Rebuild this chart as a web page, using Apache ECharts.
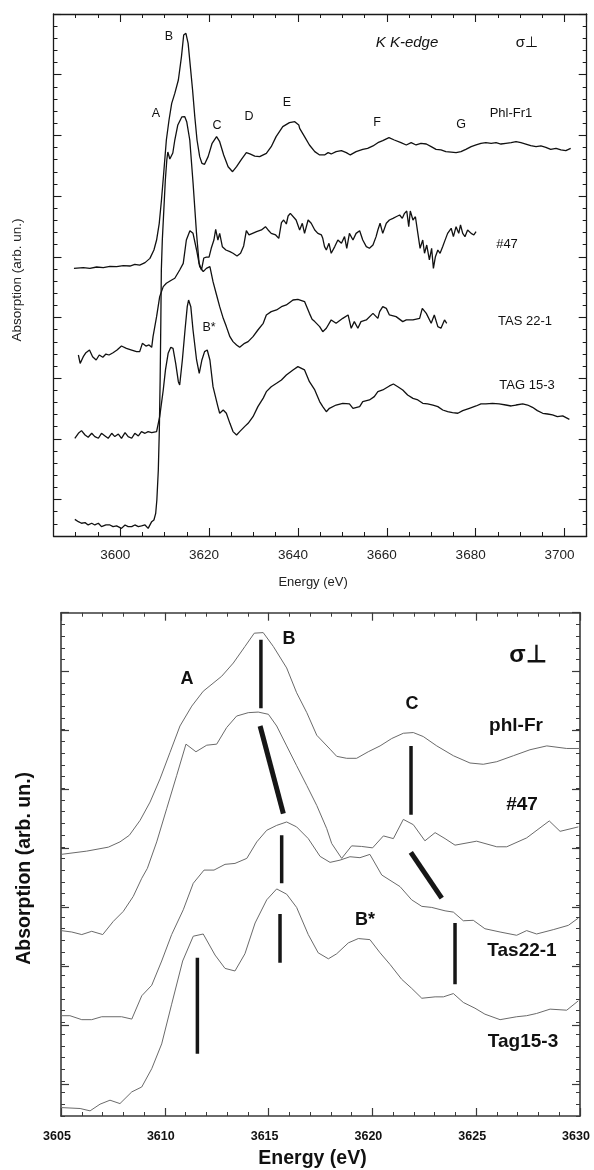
<!DOCTYPE html>
<html>
<head>
<meta charset="utf-8">
<script src="https://cdn.jsdelivr.net/npm/echarts@6/dist/echarts.min.js"></script>
<style>
html,body{margin:0;padding:0;background:#fff;}
#chart{width:594px;height:1170px;}
</style>
</head>
<body>
<div id="chart"></div>
<script>
// ---------------- DATA: top panel (K K-edge, energy eV vs absorption arb. un.) ----------------
const phlFr1Top = [[3589.6,19.05],[3591.7,19.10],[3593.2,19.05],[3594.7,19.16],[3596.2,19.10],[3597.7,19.21],[3599.2,19.19],[3600.7,19.27],[3602.2,19.24],[3603.3,19.38],[3604.4,19.32],[3605.6,19.52],[3606.7,19.87],[3607.6,20.56],[3608.2,21.38],[3608.8,22.76],[3609.3,24.68],[3609.8,26.88],[3610.4,29.62],[3611.0,31.27],[3611.6,32.64],[3612.3,33.46],[3613.1,34.56],[3613.8,36.49],[3614.3,38.27],[3614.8,38.41],[3615.3,37.58],[3615.8,35.66],[3616.3,33.74],[3616.8,31.54],[3617.3,29.62],[3617.9,28.25],[3618.4,27.70],[3619.0,27.62],[3619.8,28.25],[3620.7,29.35],[3621.7,29.90],[3622.4,29.48],[3623.3,28.38],[3624.3,27.42],[3625.3,27.01],[3626.2,27.42],[3627.3,28.03],[3628.4,28.58],[3629.2,28.47],[3630.3,28.30],[3631.4,28.25],[3632.9,28.52],[3634.0,29.07],[3635.1,29.90],[3636.6,30.72],[3638.1,31.05],[3639.3,31.13],[3640.2,30.86],[3640.4,30.58],[3641.5,29.90],[3642.6,29.21],[3643.8,28.66],[3644.9,28.39],[3646.0,28.39],[3646.8,28.58],[3647.5,28.47],[3648.6,28.66],[3649.8,28.74],[3650.9,28.58],[3651.8,28.39],[3653.1,28.66],[3654.6,28.85],[3655.7,28.93],[3656.9,29.13],[3658.0,29.40],[3659.1,29.57],[3660.5,29.81],[3661.7,29.62],[3663.2,29.40],[3664.4,29.21],[3665.5,29.40],[3666.6,29.21],[3667.7,29.35],[3668.9,29.29],[3670.0,29.07],[3671.1,28.85],[3672.2,28.80],[3673.3,28.66],[3674.5,28.63],[3675.6,28.58],[3676.7,28.66],[3677.8,28.85],[3679.0,29.07],[3680.1,29.21],[3681.2,29.35],[3682.3,29.40],[3683.5,29.35],[3684.6,29.40],[3685.7,29.29],[3686.8,29.35],[3688.0,29.40],[3689.1,29.48],[3690.2,29.40],[3691.3,29.29],[3692.4,29.15],[3693.6,29.07],[3694.7,29.13],[3695.8,29.02],[3696.9,28.85],[3698.1,28.93],[3699.2,28.80],[3700.3,28.74],[3701.4,28.93]];

const s47Top = [[3589.8,-1.63],[3590.6,-1.82],[3591.3,-1.95],[3592.1,-1.90],[3592.8,-2.09],[3593.6,-1.95],[3594.3,-2.09],[3595.1,-1.95],[3595.8,-2.23],[3596.8,-2.09],[3597.7,-2.09],[3598.4,-2.23],[3599.2,-2.17],[3600.3,-2.37],[3601.1,-2.09],[3601.8,-2.23],[3602.6,-2.23],[3603.3,-2.09],[3604.1,-2.23],[3604.8,-2.17],[3605.6,-2.09],[3606.3,-2.37],[3607.1,-1.82],[3607.6,-1.68],[3608.0,-1.13],[3608.26,-0.03],[3608.59,2.44],[3608.82,5.73],[3609.0,9.85],[3609.16,14.79],[3609.27,18.91],[3609.49,21.38],[3609.83,23.86],[3610.17,26.33],[3610.5,27.97],[3610.73,28.63],[3611.18,28.06],[3611.85,28.55],[3612.3,29.62],[3612.98,30.86],[3613.87,31.52],[3614.55,31.54],[3615.0,31.10],[3615.67,29.62],[3616.41,26.08],[3617.18,21.96],[3617.76,19.49],[3618.3,18.91],[3618.82,19.90],[3619.42,19.98],[3620.01,19.98],[3620.5,20.70],[3621.1,21.38],[3621.5,22.26],[3622.0,21.38],[3622.4,21.93],[3623.0,20.83],[3623.8,20.56],[3624.7,20.42],[3625.4,20.29],[3626.3,20.07],[3627.1,20.29],[3627.8,20.89],[3628.4,22.15],[3629.0,21.80],[3629.8,21.93],[3630.7,22.07],[3631.8,22.21],[3632.7,22.48],[3633.3,22.21],[3634.0,21.93],[3635.0,21.80],[3635.7,21.52],[3636.3,22.81],[3636.8,23.03],[3637.4,22.70],[3637.8,23.36],[3638.3,23.58],[3639.6,23.03],[3640.4,22.21],[3641.0,22.76],[3641.5,21.93],[3642.3,23.03],[3643.0,22.76],[3643.8,22.21],[3644.5,21.93],[3645.3,21.80],[3645.6,21.52],[3646.0,20.84],[3646.4,20.56],[3647.0,21.11],[3647.5,20.29],[3648.3,20.84],[3649.0,21.38],[3649.8,21.11],[3650.5,21.66],[3651.0,20.70],[3651.6,21.93],[3652.4,21.38],[3653.1,21.93],[3653.9,22.15],[3654.6,21.38],[3655.4,20.84],[3656.1,20.70],[3656.9,20.97],[3657.6,21.66],[3658.0,22.21],[3658.5,22.76],[3659.1,21.93],[3659.9,22.76],[3660.6,23.03],[3661.4,23.17],[3662.1,23.30],[3662.9,23.44],[3663.5,23.17],[3664.0,23.58],[3664.5,23.77],[3664.95,22.48],[3665.3,23.77],[3665.9,23.03],[3666.45,23.30],[3667.0,21.93],[3667.5,20.70],[3668.1,21.38],[3668.5,20.29],[3669.0,20.97],[3669.6,19.74],[3670.1,20.70],[3670.5,19.05],[3670.95,20.01],[3671.5,20.56],[3672.0,20.29],[3672.6,20.84],[3673.0,21.25],[3673.7,21.93],[3674.5,22.35],[3675.0,21.66],[3675.6,22.48],[3676.2,21.93],[3676.6,22.62],[3677.1,21.93],[3677.6,21.66],[3678.2,22.21],[3679.0,21.93],[3679.6,21.80],[3680.1,22.07]];

const tas221Top = [[3590.6,11.91],[3591.0,11.22],[3591.7,11.77],[3592.3,12.10],[3593.1,12.32],[3593.8,11.77],[3594.6,11.50],[3595.3,11.91],[3596.1,11.72],[3596.8,11.99],[3597.5,11.91],[3598.4,12.10],[3599.3,12.32],[3600.3,12.65],[3601.4,12.46],[3602.6,12.32],[3603.7,12.19],[3604.4,12.19],[3605.0,12.87],[3605.8,12.65],[3606.5,12.74],[3607.1,12.54],[3607.4,13.42],[3608.2,15.07],[3608.9,16.72],[3609.7,17.54],[3610.4,17.82],[3611.6,18.09],[3612.3,18.23],[3613.4,18.91],[3614.2,19.46],[3614.9,21.38],[3615.7,22.15],[3616.4,21.93],[3617.2,20.56],[3617.9,19.19],[3618.7,18.78],[3619.4,19.05],[3620.2,19.19],[3620.9,17.95],[3621.7,16.85],[3622.4,15.89],[3623.2,14.93],[3623.9,14.25],[3624.7,13.42],[3625.4,13.01],[3626.2,12.74],[3626.9,12.54],[3628.0,12.87],[3628.8,13.01],[3629.9,13.42],[3631.0,13.97],[3632.2,14.52],[3632.9,15.21],[3634.0,15.48],[3635.2,15.62],[3636.3,15.89],[3637.4,16.03],[3638.9,16.44],[3640.0,16.50],[3641.5,16.31],[3642.6,15.34],[3643.2,14.85],[3643.8,14.66],[3644.9,14.25],[3645.6,13.83],[3646.4,14.11],[3647.5,14.80],[3648.6,14.52],[3650.1,14.93],[3651.3,15.21],[3652.0,14.11],[3652.7,14.66],[3653.5,14.11],[3654.2,14.66],[3655.4,14.80],[3656.9,15.34],[3658.0,14.93],[3658.4,15.48],[3659.1,15.89],[3659.9,15.75],[3660.6,15.21],[3662.1,15.07],[3663.6,14.66],[3664.4,14.80],[3665.9,14.80],[3667.4,14.93],[3668.0,15.75],[3668.9,15.34],[3670.0,14.52],[3670.7,15.21],[3671.5,14.25],[3672.2,14.11],[3673.0,14.80],[3673.5,14.52]];

const tag153Top = [[3589.8,5.05],[3590.6,5.46],[3591.3,5.68],[3592.1,5.32],[3592.8,5.13],[3593.6,5.46],[3594.3,5.19],[3595.1,5.05],[3595.8,5.46],[3596.6,5.24],[3597.3,5.05],[3598.1,5.46],[3598.8,5.19],[3599.6,5.40],[3600.3,5.05],[3601.1,5.51],[3601.8,5.19],[3602.6,5.05],[3603.3,5.46],[3604.1,5.24],[3604.8,5.60],[3605.6,5.46],[3606.3,5.60],[3607.1,5.51],[3608.2,5.60],[3608.6,5.74],[3608.9,6.83],[3609.7,9.03],[3610.2,10.68],[3610.8,12.05],[3611.4,12.54],[3611.9,12.46],[3612.5,11.22],[3613.1,9.71],[3613.4,9.44],[3614.0,11.50],[3614.6,13.97],[3615.1,15.89],[3615.4,16.44],[3615.9,15.89],[3616.4,13.97],[3617.2,11.50],[3617.8,10.40],[3618.4,11.50],[3619.0,12.19],[3619.6,12.32],[3620.2,11.50],[3620.9,9.30],[3622.0,7.66],[3622.4,7.11],[3623.2,7.38],[3623.9,7.11],[3624.7,6.28],[3625.4,5.60],[3626.2,5.32],[3626.9,5.60],[3628.0,6.01],[3628.8,6.28],[3629.9,6.83],[3631.0,7.66],[3632.2,8.36],[3632.9,8.89],[3634.0,9.30],[3635.2,9.58],[3636.3,9.85],[3637.4,10.26],[3638.9,10.68],[3640.0,10.95],[3641.5,10.68],[3642.6,9.71],[3643.8,9.03],[3644.9,8.07],[3645.6,7.66],[3646.4,7.24],[3647.1,7.52],[3648.6,7.79],[3650.1,7.93],[3651.6,7.88],[3652.4,7.52],[3653.9,7.66],[3654.6,8.07],[3656.1,8.21],[3657.2,8.48],[3658.0,8.89],[3659.1,9.03],[3660.6,9.36],[3661.5,9.52],[3662.5,9.30],[3663.6,9.03],[3664.7,8.62],[3665.9,8.34],[3667.0,8.21],[3668.1,7.93],[3669.2,7.88],[3670.4,7.79],[3671.5,7.66],[3672.6,7.38],[3673.7,7.24],[3674.8,7.16],[3676.0,7.11],[3677.1,7.33],[3678.6,7.52],[3680.1,7.71],[3681.2,7.88],[3682.3,7.88],[3683.8,7.93],[3685.3,7.88],[3686.8,7.79],[3688.0,7.71],[3689.1,7.79],[3690.6,7.88],[3691.7,7.79],[3692.8,7.60],[3693.9,7.33],[3695.1,7.11],[3696.2,7.05],[3697.3,6.97],[3698.4,6.83],[3699.6,6.89],[3701.1,6.61]];

// ---------------- DATA: bottom panel (zoom 3605-3630 eV) ----------------
const phlFrBot = [[3605.0,19.35],[3606.24,19.63],[3607.28,19.97],[3607.84,20.42],[3608.29,20.98],[3608.81,22.26],[3609.29,23.82],[3609.77,25.8],[3610.25,28.06],[3610.73,30.32],[3611.30,32.02],[3611.85,33.29],[3612.74,34.57],[3613.30,35.7],[3613.86,37.11],[3614.31,38.25],[3614.74,38.30],[3615.23,37.11],[3615.87,35.28],[3616.35,33.16],[3616.84,31.46],[3617.32,29.53],[3617.96,28.34],[3618.28,27.73],[3618.76,27.56],[3619.24,27.56],[3619.80,28.12],[3620.37,28.62],[3620.93,29.25],[3621.49,29.70],[3621.97,29.76],[3622.45,29.42],[3623.10,28.62],[3623.90,27.78],[3624.70,27.16],[3625.34,27.05],[3625.99,27.27],[3626.79,27.78],[3627.59,28.29],[3628.40,28.62],[3629.36,28.4],[3630.0,28.4]];

const s47Bot = [[3605.0,12.84],[3605.52,12.72],[3606.0,12.50],[3606.48,12.78],[3607.01,12.50],[3607.52,13.63],[3608.0,14.48],[3608.48,15.76],[3608.89,17.31],[3609.16,18.16],[3609.61,20.42],[3610.09,23.25],[3610.57,26.08],[3611.02,28.77],[3611.50,28.12],[3612.02,28.68],[3612.50,28.77],[3612.98,30.19],[3613.46,31.17],[3614.02,31.46],[3614.50,31.51],[3614.99,31.32],[3615.39,30.32],[3615.87,28.62],[3616.35,26.93],[3616.84,25.23],[3617.32,23.53],[3617.80,21.55],[3618.04,20.28],[3618.52,19.01],[3619.00,20.08],[3619.48,20.03],[3620.01,19.91],[3620.53,20.93],[3621.01,20.70],[3621.49,22.34],[3621.97,21.89],[3622.53,20.51],[3623.02,21.21],[3623.50,20.70],[3623.98,20.14],[3625.02,20.48],[3625.99,20.0],[3626.47,20.0],[3627.43,20.76],[3628.52,22.21],[3629.04,21.32],[3629.92,21.70]];

const tas221Bot = [[3605.0,5.57],[3605.43,5.57],[3606.0,5.23],[3606.48,5.23],[3606.96,5.48],[3607.92,5.48],[3608.41,5.28],[3608.89,7.27],[3609.37,8.17],[3609.85,10.24],[3610.33,12.50],[3610.89,14.62],[3611.37,16.88],[3611.89,18.01],[3612.37,18.01],[3612.90,18.50],[3613.38,18.58],[3613.95,19.01],[3614.43,20.42],[3614.91,21.41],[3615.39,21.83],[3615.87,22.12],[3616.35,21.70],[3616.91,20.70],[3617.48,19.18],[3617.96,18.67],[3618.44,18.86],[3618.92,19.15],[3619.40,19.07],[3619.88,19.35],[3620.45,17.59],[3621.33,16.60],[3621.89,15.47],[3622.38,14.91],[3622.86,14.82],[3623.50,14.53],[3623.90,14.42],[3624.38,13.68],[3624.86,13.72],[3625.42,13.00],[3626.15,12.72],[3626.95,12.44],[3627.43,12.84],[3627.91,12.55],[3628.71,12.92],[3629.44,13.29],[3629.92,13.91]];

const tag153Bot = [[3605.0,-2.28],[3605.92,-2.36],[3606.40,-2.56],[3606.88,-1.99],[3607.36,-1.65],[3607.84,-1.94],[3608.41,-0.94],[3608.89,-0.52],[3609.37,1.04],[3609.85,3.16],[3610.33,6.55],[3610.86,10.24],[3611.37,12.36],[3611.85,12.55],[3612.42,10.75],[3612.90,9.61],[3613.38,9.39],[3613.86,10.86],[3614.35,13.49],[3614.91,15.47],[3615.39,16.40],[3615.87,15.95],[3616.35,14.82],[3616.91,12.50],[3617.39,10.94],[3617.88,10.43],[3618.28,10.86],[3618.84,11.79],[3619.32,12.16],[3619.88,12.07],[3620.37,10.94],[3620.85,9.95],[3621.41,8.68],[3621.89,7.91],[3622.38,7.06],[3623.02,7.18],[3623.42,7.18],[3623.90,7.46],[3624.38,6.70],[3624.94,6.21],[3625.42,5.70],[3626.15,5.23],[3626.95,5.48],[3627.43,5.57],[3627.91,5.76],[3628.56,6.13],[3629.36,6.04],[3629.92,6.84]];

// thick peak-position markers in the bottom panel: [E1, v1, E2, v2]
const peakMarks = [[3614.63,37.68,3614.63,31.83],[3614.59,30.32,3615.71,22.83],[3615.63,20.98,3615.63,16.88],[3615.55,14.25,3615.55,10.09],[3611.57,10.52,3611.57,2.31],[3621.86,28.62,3621.86,22.74],[3621.85,19.52,3623.34,15.61],[3623.98,13.49,3623.98,8.25]];
const peakMarkWidths = [3.5,5,3.5,3.5,3.5,3.5,5,3.5];

// ---------------- CHART ----------------
const FONT = '"Liberation Sans", Arial, sans-serif';
const topCol = '#1a1a1a', botCol = '#3a3a3a';

function tickAxis(o){ return Object.assign({type:'value', axisLabel:{show:false}, splitLine:{show:false}}, o); }

const grid = [
  {left:53.5, right:7.3, top:14, bottom:634},          // 0 top main
  {left:120.25, right:7.3, top:14, bottom:634},        // 1 top major x ticks (3600..)
  {left:53.5, right:7.3, top:14, bottom:670.4},        // 2 top major y ticks (0..40)
  {left:61, right:14, top:612.7, bottom:50.7},         // 3 bottom main
  {left:61, right:14, top:612.7, bottom:86.1}          // 4 bottom major y ticks
];

const topLine = {lineStyle:{color:topCol, width:1.3}};
const botLine = {lineStyle:{color:botCol, width:1.6}};

const xAxis = [
  tickAxis({gridIndex:0, position:'bottom', min:3585, max:3705, interval:5, axisLine:Object.assign({show:true,onZero:false},topLine), axisTick:{inside:true,length:4,lineStyle:{color:topCol,width:1}},
    name:'Energy (eV)', nameLocation:'middle', nameGap:40, nameTextStyle:{fontFamily:FONT, fontSize:13, color:'#222', padding:[0,14,0,0]}}),
  tickAxis({gridIndex:0, position:'top', min:3585, max:3705, interval:5, axisLine:Object.assign({show:true,onZero:false},topLine), axisTick:{inside:true,length:4,lineStyle:{color:topCol,width:1}}}),
  tickAxis({gridIndex:1, position:'bottom', min:3600, max:3705, interval:20, axisLine:{show:false,onZero:false}, axisTick:{inside:true,length:8,lineStyle:{color:topCol,width:1.1}},
    axisLabel:{show:true, margin:12, fontFamily:FONT, fontSize:13.5, color:'#222', padding:[0,10,0,0], formatter:v=> (v%20===0? String(v):'')}}),
  tickAxis({gridIndex:1, position:'top', min:3600, max:3705, interval:20, axisLine:{show:false,onZero:false}, axisTick:{inside:true,length:8,lineStyle:{color:topCol,width:1.1}}}),
  tickAxis({gridIndex:2, show:false, min:3585, max:3705}),
  tickAxis({gridIndex:3, position:'bottom', min:3605, max:3630, interval:5, axisLine:Object.assign({show:true,onZero:false},botLine), axisTick:{inside:true,length:8,lineStyle:{color:botCol,width:1.2}},
    minorTick:{show:true, splitNumber:5, length:4, lineStyle:{color:botCol,width:1}},
    axisLabel:{show:true, margin:14, fontFamily:FONT, fontWeight:'bold', fontSize:12.5, color:'#111', padding:[0,8,0,0], formatter:v=>String(v)},
    name:'Energy (eV)', nameLocation:'middle', nameGap:33, nameTextStyle:{fontFamily:FONT, fontWeight:'bold', fontSize:19.5, color:'#111', padding:[0,16,0,0]}}),
  tickAxis({gridIndex:3, position:'top', min:3605, max:3630, interval:5, axisLine:Object.assign({show:true,onZero:false},botLine), axisTick:{inside:true,length:8,lineStyle:{color:botCol,width:1.2}},
    minorTick:{show:true, splitNumber:5, length:4, lineStyle:{color:botCol,width:1}}}),
  tickAxis({gridIndex:4, show:false, min:3605, max:3630})
];

const yAxis = [
  tickAxis({gridIndex:0, position:'left', min:-3, max:40, interval:1, axisLine:Object.assign({show:true,onZero:false},topLine), axisTick:{inside:true,length:4,lineStyle:{color:topCol,width:1}},
    name:'Absorption (arb. un.)', nameLocation:'middle', nameGap:29, nameRotate:90, nameTextStyle:{fontFamily:FONT, fontSize:13.5, color:'#222', padding:[0,10,0,0]}}),
  tickAxis({gridIndex:0, position:'right', min:-3, max:40, interval:1, axisLine:Object.assign({show:true,onZero:false},topLine), axisTick:{inside:true,length:4,lineStyle:{color:topCol,width:1}}}),
  tickAxis({gridIndex:1, show:false, min:-3, max:40}),
  tickAxis({gridIndex:2, position:'left', min:0, max:40, interval:5, axisLine:{show:false,onZero:false}, axisTick:{inside:true,length:8,lineStyle:{color:topCol,width:1.1}}}),
  tickAxis({gridIndex:2, position:'right', min:0, max:40, interval:5, axisLine:{show:false,onZero:false}, axisTick:{inside:true,length:8,lineStyle:{color:topCol,width:1.1}}}),
  tickAxis({gridIndex:3, position:'left', min:-3, max:40, interval:1, axisLine:Object.assign({show:true,onZero:false},botLine), axisTick:{inside:true,length:4,lineStyle:{color:botCol,width:1}},
    name:'Absorption (arb. un.)', nameLocation:'middle', nameGap:26, nameRotate:90, nameTextStyle:{fontFamily:FONT, fontWeight:'bold', fontSize:19.5, color:'#111', padding:[0,8,0,0]}}),
  tickAxis({gridIndex:3, position:'right', min:-3, max:40, interval:1, axisLine:Object.assign({show:true,onZero:false},botLine), axisTick:{inside:true,length:4,lineStyle:{color:botCol,width:1}}}),
  tickAxis({gridIndex:4, position:'left', min:0, max:40, interval:5, axisLine:{show:false,onZero:false}, axisTick:{inside:true,length:8,lineStyle:{color:botCol,width:1.2}}}),
  tickAxis({gridIndex:4, position:'right', min:0, max:40, interval:5, axisLine:{show:false,onZero:false}, axisTick:{inside:true,length:8,lineStyle:{color:botCol,width:1.2}}})
];

function curve(data, xi, yi, color, width){
  return {type:'line', data:data, xAxisIndex:xi, yAxisIndex:yi, showSymbol:false, symbol:'none', smooth:false,
    lineStyle:{color:color, width:width}, animation:false, silent:true, z:3};
}

const series = [
  curve(phlFr1Top,0,0,'#111',1.3),
  curve(s47Top,0,0,'#111',1.3),
  curve(tas221Top,0,0,'#111',1.3),
  curve(tag153Top,0,0,'#111',1.3),
  curve(phlFrBot,5,5,'#6a6a6a',1),
  curve(s47Bot,5,5,'#6a6a6a',1),
  curve(tas221Bot,5,5,'#6a6a6a',1),
  curve(tag153Bot,5,5,'#6a6a6a',1)
];
peakMarks.forEach((m,i)=>{
  const s = curve([[m[0],m[1]],[m[2],m[3]]],5,5,'#161616',peakMarkWidths[i]);
  s.z = 4; s.lineStyle.cap = 'butt';
  series.push(s);
});

function txt(t,x,y,size,opts){
  opts = opts||{};
  return {type:'text', x:x, y:y, z:10, silent:true, style:{text:t, fill:opts.fill||'#111',
    font:(opts.italic?'italic ':'')+(opts.bold?'bold ':'')+size+'px '+FONT, align:'center', verticalAlign:'middle'}};
}
const graphic = [
  txt('B',169,37,12.5), txt('A',156,114,12.5), txt('C',217,126,12.5), txt('D',249,117,12.5), txt('E',287,103,12.5),
  txt('F',377,123,12.5), txt('G',461,125,12.5), txt('Phl-Fr1',511,113,13), txt('K K-edge',407,43,15,{italic:true}),
  txt('σ⊥',527,43,15), txt('#47',507,244,13), txt('TAS 22-1',525,321,13), txt('TAG 15-3',527,385,13), txt('B*',209,328,12.5),
  txt('A',187,679,18,{bold:true}), txt('B',289,639,18,{bold:true}), txt('σ⊥',528,655,24,{bold:true}), txt('C',412,704,18,{bold:true}),
  txt('phl-Fr',516,726,19,{bold:true}), txt('#47',522,805,19,{bold:true}), txt('B*',365,920,18,{bold:true}),
  txt('Tas22-1',522,951,19,{bold:true}), txt('Tag15-3',523,1042,19,{bold:true})
];

const chart = echarts.init(document.getElementById('chart'), null, {renderer:'canvas'});
chart.setOption({animation:false, backgroundColor:'#fff', grid:grid, xAxis:xAxis, yAxis:yAxis, series:series, graphic:graphic});
</script>
</body>
</html>
